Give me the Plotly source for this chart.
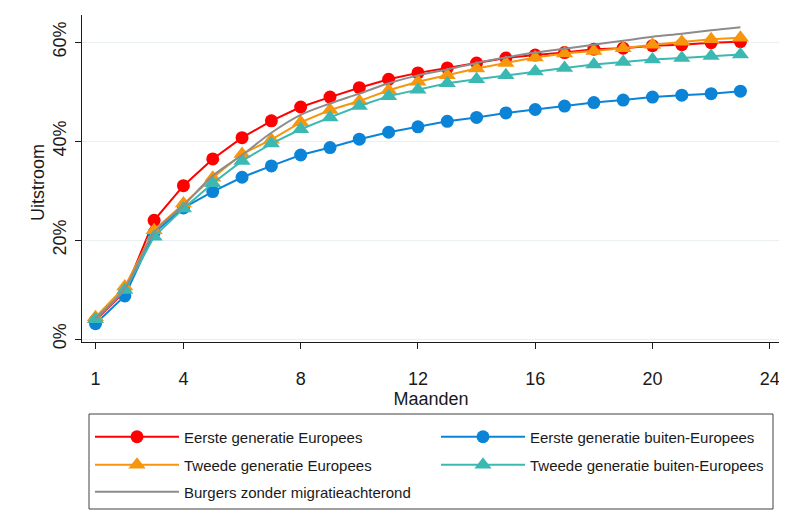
import plotly.graph_objects as go

maanden = list(range(1, 24))

eerste_europees = [3.8, 9.6, 24.0, 31.0, 36.4, 40.7, 44.1, 46.9, 48.9, 50.8, 52.5, 53.8,
                   54.8, 55.8, 56.8, 57.4, 57.9, 58.6, 58.8, 59.3, 59.5, 59.9, 60.1]
eerste_buiten = [3.1, 8.7, 21.5, 26.5, 29.8, 32.7, 35.0, 37.2, 38.7, 40.4, 41.8, 42.9,
                 44.0, 44.8, 45.7, 46.4, 47.1, 47.8, 48.3, 48.9, 49.3, 49.6, 50.1]
tweede_europees = [4.4, 10.6, 22.0, 27.4, 32.6, 37.4, 40.3, 43.8, 46.3, 48.1, 50.3, 52.0,
                   53.3, 54.7, 55.8, 56.9, 57.7, 58.2, 58.8, 59.5, 60.1, 60.6, 60.9]
tweede_buiten = [4.0, 9.9, 20.7, 26.4, 31.5, 36.0, 39.5, 42.4, 44.8, 47.1, 49.1, 50.4,
                 51.7, 52.5, 53.3, 54.1, 54.8, 55.5, 56.0, 56.5, 56.8, 57.2, 57.5]
zonder_migratie = [4.2, 10.3, 21.5, 27.0, 33.0, 37.2, 41.7, 45.3, 47.6, 49.6, 51.7, 53.3,
                   54.5, 55.8, 56.9, 57.9, 58.7, 59.5, 60.3, 61.1, 61.7, 62.4, 63.0]

x_ticks = [1, 4, 8, 12, 16, 20, 24]
y_ticks = [0, 20, 40, 60]
y_labels = ["0%", "20%", "40%", "60%"]

FONT = "Liberation Sans, Arial, sans-serif"

# the page puts the figure 8px in from the top-left, so size it to fit and
# work in page pixels: plot area 82..780 wide, 15..342 high
OFF = 8
W, H = 787 - OFF, 531 - OFF
L, R, T, B = 82 - OFF, 780 - OFF, 15 - OFF, 342 - OFF


def px_x(p):
    return (p - OFF - L) / (R - L)


def px_y(p):
    return (B - (p - OFF)) / (B - T)


# name, values, colour, marker, legend slot (left px, row centre px)
series = [
    ("Eerste generatie Europees", eerste_europees, "#ff0000", "circle", (90, 437)),
    ("Eerste generatie buiten-Europees", eerste_buiten, "#0b84d8", "circle", (436, 437)),
    ("Tweede generatie Europees", tweede_europees, "#f7960c", "triangle-up", (90, 465)),
    ("Tweede generatie buiten-Europees", tweede_buiten, "#3cb8b2", "triangle-up", (436, 465)),
]

fig = go.Figure()
legends = {}
for i, (name, vals, color, symbol, pos) in enumerate(series):
    key = "legend" if i == 0 else f"legend{i + 1}"
    fig.add_trace(go.Scatter(
        x=maanden, y=vals, name=name, mode="lines+markers",
        line=dict(color=color, width=2),
        marker=dict(color=color, symbol=symbol, size=13 if symbol == "circle" else 15),
        legend=key,
    ))
    legends[key] = pos

fig.add_trace(go.Scatter(
    x=maanden, y=zonder_migratie, name="Burgers zonder migratieachterond",
    mode="lines", line=dict(color="#8c8c8c", width=2, shape="spline"),
    legend="legend5",
))
legends["legend5"] = (90, 492)

leg_layout = {}
for key, (lx, ly) in legends.items():
    leg_layout[key] = dict(
        x=px_x(lx), y=px_y(ly), xanchor="left", yanchor="middle",
        itemwidth=84, font=dict(family=FONT, size=15, color="#1a1a1a"),
        bgcolor="rgba(0,0,0,0)", borderwidth=0,
    )

fig.update_layout(
    width=W, height=H,
    margin=dict(l=L, r=W - R, t=T, b=H - B, autoexpand=False),
    paper_bgcolor="white", plot_bgcolor="white",
    font=dict(family=FONT, size=18, color="#1a1a1a"),
    showlegend=True,
    xaxis=dict(
        range=[0.54, 24.35], tickvals=x_ticks, showgrid=False, zeroline=False,
        showline=True, linecolor="#1a1a1a", linewidth=1, automargin=False,
        ticks="outside", ticklen=6, tickcolor="#1a1a1a", ticklabelstandoff=14,
        title=dict(text="Maanden", standoff=0, font=dict(size=18)),
        tickfont=dict(size=18),
    ),
    yaxis=dict(
        range=[-0.6, 65.5], tickvals=y_ticks, ticktext=y_labels, tickangle=-90,
        showgrid=True, gridcolor="#eaeff2", gridwidth=1, zeroline=False,
        showline=True, linecolor="#1a1a1a", linewidth=1, automargin=False,
        ticks="outside", ticklen=6, tickcolor="#1a1a1a", ticklabelstandoff=2,
        tickfont=dict(size=18),
    ),
    annotations=[
        dict(text="Uitstroom", textangle=-90, showarrow=False,
             xref="paper", yref="paper", x=px_x(38), y=px_y(183),
             xanchor="center", yanchor="middle", font=dict(size=18)),
    ],
    shapes=[
        dict(type="rect", xref="paper", yref="paper",
             x0=px_x(89), x1=px_x(773), y0=px_y(509), y1=px_y(414),
             line=dict(color="#404040", width=1)),
    ],
    **leg_layout,
)

fig.write_html("out.html")
